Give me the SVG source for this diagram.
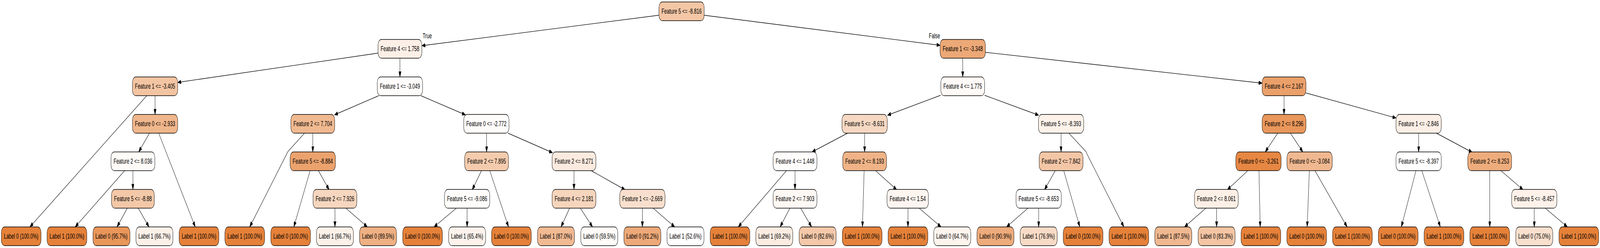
<svg xmlns="http://www.w3.org/2000/svg" width="6573" height="635" viewBox="0 0 6573 635" preserveAspectRatio="none">
<defs>
<marker id="arr" markerUnits="userSpaceOnUse" viewBox="0 0 14 10" refX="14" refY="5" markerWidth="14" markerHeight="10" orient="auto">
<path d="M0,0 L14,5 L0,10 Z" fill="#000" stroke="#000" stroke-width="1"/>
</marker>
</defs>
<style>
svg{width:100vw;height:100vh}
.node rect{stroke:#000;stroke-width:1.33}
.node text{font-family:"Liberation Sans",Arial,Helvetica,sans-serif;font-size:18.67px;text-anchor:middle;fill:#000}
.edges path{fill:none;stroke:#000;stroke-width:1.33;marker-end:url(#arr)}
.elabel{font-family:"Liberation Sans",Arial,Helvetica,sans-serif;font-size:18.67px;text-anchor:middle;fill:#000}
</style>
<rect x="0" y="0" width="6573" height="635" fill="#fff"/>
<g id="edges" class="edges">
<path d="M2707,39 L1733,117"/>
<path d="M2892,39 L3862,116"/>
<path d="M1553,136 L730,211"/>
<path d="M1643,149 L1643,197"/>
<path d="M3955,149 L3955,197"/>
<path d="M4048,134 L5185,213"/>
<path d="M603,245 L123,581"/>
<path d="M637,245 L637,293"/>
<path d="M1556,245 L1374,294"/>
<path d="M1729,245 L1912,294"/>
<path d="M3864,244 L3646,295"/>
<path d="M4045,244 L4267,295"/>
<path d="M5275,245 L5275,293"/>
<path d="M5365,238 L5735,302"/>
<path d="M614,341 L570,389"/>
<path d="M652,341 L802,581"/>
<path d="M1285,341 L1285,389"/>
<path d="M1251,341 L1183,388 Q1180,391 1178,394 L1026,581"/>
<path d="M1999,341 L1999,389"/>
<path d="M2087,341 L2270,391"/>
<path d="M3482,341 L3336,389"/>
<path d="M3552,341 L3552,389"/>
<path d="M4359,341 L4359,389"/>
<path d="M4391,341 L4461,388 Q4464,391 4466,395 L4617,581"/>
<path d="M5249,341 L5198,389"/>
<path d="M5301,341 L5352,389"/>
<path d="M5828,341 L5828,389"/>
<path d="M5901,341 L6048,390"/>
<path d="M512,437 L309,581"/>
<path d="M546,437 L546,485"/>
<path d="M1274,437 L1207,581"/>
<path d="M1308,437 L1352,486"/>
<path d="M1978,437 L1940,486"/>
<path d="M2012,437 L2089,581"/>
<path d="M2358,437 L2358,485"/>
<path d="M2429,437 L2568,486"/>
<path d="M3231,437 L3033,581"/>
<path d="M3266,437 L3266,485"/>
<path d="M3550,437 L3543,581"/>
<path d="M3597,437 L3684,486"/>
<path d="M4335,437 L4291,486"/>
<path d="M4370,437 L4436,581"/>
<path d="M5126,437 L5042,486"/>
<path d="M5172,437 L5177,581"/>
<path d="M5379,437 L5370,581"/>
<path d="M5402,437 L5534,581"/>
<path d="M5817,437 L5757,581"/>
<path d="M5841,437 L5917,581"/>
<path d="M6120,437 L6120,581"/>
<path d="M6166,437 L6257,486"/>
<path d="M523,533 L481,581"/>
<path d="M568,533 L612,581"/>
<path d="M1376,533 L1376,581"/>
<path d="M1421,533 L1509,581"/>
<path d="M1875,533 L1783,581"/>
<path d="M1919,533 L1919,581"/>
<path d="M2340,533 L2305,581"/>
<path d="M2384,533 L2434,581"/>
<path d="M2639,533 L2639,581"/>
<path d="M2683,533 L2772,581"/>
<path d="M3245,533 L3205,581"/>
<path d="M3289,533 L3334,581"/>
<path d="M3730,533 L3730,581"/>
<path d="M3776,533 L3866,581"/>
<path d="M4223,533 L4135,581"/>
<path d="M4267,533 L4267,581"/>
<path d="M4954,533 L4866,581"/>
<path d="M4998,533 L4998,581"/>
<path d="M6303,533 L6303,581"/>
<path d="M6348,533 L6439,581"/>
<text class="elabel" x="1755" y="98">True</text>
<text class="elabel" x="3839" y="98">False</text>
</g>
<g id="n0" class="node"><rect x="2707" y="5" width="186" height="48" rx="14" fill="#f3c6a5"/><text x="2800" y="35.5">Feature 5 &lt;= -8.816</text></g>
<g id="n1" class="node"><rect x="1553" y="101" width="180" height="48" rx="14" fill="#fcefe6"/><text x="1643" y="131.5">Feature 4 &lt;= 1.758</text></g>
<g id="n2" class="node"><rect x="3862" y="101" width="186" height="48" rx="14" fill="#eca876"/><text x="3955" y="131.5">Feature 1 &lt;= -3.348</text></g>
<g id="n3" class="node"><rect x="544" y="197" width="186" height="48" rx="14" fill="#f3c4a2"/><text x="637" y="227.5">Feature 1 &lt;= -3.405</text></g>
<g id="n4" class="node"><rect x="1550" y="197" width="186" height="48" rx="14" fill="#fffdfc"/><text x="1643" y="227.5">Feature 1 &lt;= -3.049</text></g>
<g id="n5" class="node"><rect x="3865" y="197" width="180" height="48" rx="14" fill="#fefaf7"/><text x="3955" y="227.5">Feature 4 &lt;= 1.775</text></g>
<g id="n6" class="node"><rect x="5185" y="197" width="180" height="48" rx="14" fill="#eba06a"/><text x="5275" y="227.5">Feature 4 &lt;= 2.167</text></g>
<g id="n7" class="node"><rect x="544" y="293" width="186" height="48" rx="14" fill="#f0b68c"/><text x="637" y="323.5">Feature 0 &lt;= -2.933</text></g>
<g id="n8" class="node"><rect x="1195" y="293" width="180" height="48" rx="14" fill="#f0b990"/><text x="1285" y="323.5">Feature 2 &lt;= 7.704</text></g>
<g id="n9" class="node"><rect x="1905" y="293" width="186" height="48" rx="14" fill="#fefcfa"/><text x="1998" y="323.5">Feature 0 &lt;= -2.772</text></g>
<g id="n10" class="node"><rect x="3459" y="293" width="186" height="48" rx="14" fill="#f6d8c2"/><text x="3552" y="323.5">Feature 5 &lt;= -8.631</text></g>
<g id="n11" class="node"><rect x="4266" y="293" width="186" height="48" rx="14" fill="#fcf2ea"/><text x="4359" y="323.5">Feature 5 &lt;= -8.393</text></g>
<g id="n12" class="node"><rect x="5185" y="293" width="180" height="48" rx="14" fill="#e9975b"/><text x="5275" y="323.5">Feature 2 &lt;= 8.296</text></g>
<g id="n13" class="node"><rect x="5735" y="293" width="186" height="48" rx="14" fill="#fcefe6"/><text x="5828" y="323.5">Feature 1 &lt;= -2.846</text></g>
<g id="n14" class="node"><rect x="456" y="389" width="180" height="48" rx="14" fill="#fefbf8"/><text x="546" y="419.5">Feature 2 &lt;= 8.036</text></g>
<g id="n15" class="node"><rect x="1192" y="389" width="186" height="48" rx="14" fill="#eba26d"/><text x="1285" y="419.5">Feature 5 &lt;= -8.884</text></g>
<g id="n16" class="node"><rect x="1909" y="389" width="180" height="48" rx="14" fill="#f4cbad"/><text x="1999" y="419.5">Feature 2 &lt;= 7.895</text></g>
<g id="n17" class="node"><rect x="2268" y="389" width="180" height="48" rx="14" fill="#fbeadf"/><text x="2358" y="419.5">Feature 2 &lt;= 8.271</text></g>
<g id="n18" class="node"><rect x="3176" y="389" width="180" height="48" rx="14" fill="#fffdfc"/><text x="3266" y="419.5">Feature 4 &lt;= 1.448</text></g>
<g id="n19" class="node"><rect x="3462" y="389" width="180" height="48" rx="14" fill="#efb387"/><text x="3552" y="419.5">Feature 2 &lt;= 8.193</text></g>
<g id="n20" class="node"><rect x="4269" y="389" width="180" height="48" rx="14" fill="#f3c6a6"/><text x="4359" y="419.5">Feature 2 &lt;= 7.842</text></g>
<g id="n21" class="node"><rect x="5077" y="389" width="186" height="48" rx="14" fill="#e68743"/><text x="5170" y="419.5">Feature 0 &lt;= -3.261</text></g>
<g id="n22" class="node"><rect x="5287" y="389" width="186" height="48" rx="14" fill="#f0b890"/><text x="5380" y="419.5">Feature 0 &lt;= -3.084</text></g>
<g id="n23" class="node"><rect x="5735" y="389" width="186" height="48" rx="14" fill="#ffffff"/><text x="5828" y="419.5">Feature 5 &lt;= -8.397</text></g>
<g id="n24" class="node"><rect x="6030" y="389" width="180" height="48" rx="14" fill="#eeac7c"/><text x="6120" y="419.5">Feature 2 &lt;= 8.253</text></g>
<g id="n25" class="node"><rect x="458" y="485" width="176" height="48" rx="14" fill="#f3c8a8"/><text x="546" y="515.5">Feature 5 &lt;= -8.88</text></g>
<g id="n26" class="node"><rect x="1286" y="485" width="180" height="48" rx="14" fill="#f6d6bf"/><text x="1376" y="515.5">Feature 2 &lt;= 7.926</text></g>
<g id="n27" class="node"><rect x="1826" y="485" width="186" height="48" rx="14" fill="#fffdfb"/><text x="1919" y="515.5">Feature 5 &lt;= -9.086</text></g>
<g id="n28" class="node"><rect x="2268" y="485" width="180" height="48" rx="14" fill="#f6d5bd"/><text x="2358" y="515.5">Feature 4 &lt;= 2.181</text></g>
<g id="n29" class="node"><rect x="2546" y="485" width="186" height="48" rx="14" fill="#f8dfcd"/><text x="2639" y="515.5">Feature 1 &lt;= -2.669</text></g>
<g id="n30" class="node"><rect x="3176" y="485" width="180" height="48" rx="14" fill="#fef8f4"/><text x="3266" y="515.5">Feature 2 &lt;= 7.903</text></g>
<g id="n31" class="node"><rect x="3644" y="485" width="170" height="48" rx="14" fill="#fdf5ef"/><text x="3729" y="515.5">Feature 4 &lt;= 1.54</text></g>
<g id="n32" class="node"><rect x="4174" y="485" width="186" height="48" rx="14" fill="#fffefe"/><text x="4267" y="515.5">Feature 5 &lt;= -8.653</text></g>
<g id="n33" class="node"><rect x="4907" y="485" width="180" height="48" rx="14" fill="#fcefe5"/><text x="4997" y="515.5">Feature 2 &lt;= 8.061</text></g>
<g id="n34" class="node"><rect x="6210" y="485" width="186" height="48" rx="14" fill="#fdf1ea"/><text x="6303" y="515.5">Feature 5 &lt;= -8.457</text></g>
<g id="L1" class="node"><rect x="5.5" y="581" width="163" height="48" rx="14" fill="#e58139"/><text x="87" y="611.5">Label 0 (100.0%)</text></g>
<g id="L2" class="node"><rect x="193.5" y="581" width="163" height="48" rx="14" fill="#e58139"/><text x="275" y="611.5">Label 1 (100.0%)</text></g>
<g id="L3" class="node"><rect x="382" y="581" width="152" height="48" rx="14" fill="#e9965a"/><text x="458" y="611.5">Label 0 (95.7%)</text></g>
<g id="L4" class="node"><rect x="558.5" y="581" width="152" height="48" rx="14" fill="#fcf1e9"/><text x="634.5" y="611.5">Label 1 (66.7%)</text></g>
<g id="L5" class="node"><rect x="736" y="581" width="163" height="48" rx="14" fill="#e58139"/><text x="817.5" y="611.5">Label 1 (100.0%)</text></g>
<g id="L6" class="node"><rect x="924" y="581" width="163" height="48" rx="14" fill="#e58139"/><text x="1005.5" y="611.5">Label 1 (100.0%)</text></g>
<g id="L7" class="node"><rect x="1112.5" y="581" width="163" height="48" rx="14" fill="#e58139"/><text x="1194" y="611.5">Label 0 (100.0%)</text></g>
<g id="L8" class="node"><rect x="1300" y="581" width="152" height="48" rx="14" fill="#fcf1e9"/><text x="1376" y="611.5">Label 1 (66.7%)</text></g>
<g id="L9" class="node"><rect x="1477" y="581" width="152" height="48" rx="14" fill="#efb083"/><text x="1553" y="611.5">Label 0 (89.5%)</text></g>
<g id="L10" class="node"><rect x="1654.5" y="581" width="163" height="48" rx="14" fill="#e58139"/><text x="1736" y="611.5">Label 0 (100.0%)</text></g>
<g id="L11" class="node"><rect x="1843" y="581" width="152" height="48" rx="14" fill="#fdf3ec"/><text x="1919" y="611.5">Label 1 (65.4%)</text></g>
<g id="L12" class="node"><rect x="2019.5" y="581" width="163" height="48" rx="14" fill="#e58139"/><text x="2101" y="611.5">Label 0 (100.0%)</text></g>
<g id="L13" class="node"><rect x="2208" y="581" width="152" height="48" rx="14" fill="#f1ba93"/><text x="2284" y="611.5">Label 1 (87.0%)</text></g>
<g id="L14" class="node"><rect x="2386" y="581" width="152" height="48" rx="14" fill="#fefbf8"/><text x="2462" y="611.5">Label 0 (59.5%)</text></g>
<g id="L15" class="node"><rect x="2563" y="581" width="152" height="48" rx="14" fill="#eda978"/><text x="2639" y="611.5">Label 0 (91.2%)</text></g>
<g id="L16" class="node"><rect x="2740" y="581" width="152" height="48" rx="14" fill="#fffefe"/><text x="2816" y="611.5">Label 1 (52.6%)</text></g>
<g id="L17" class="node"><rect x="2917.5" y="581" width="163" height="48" rx="14" fill="#e58139"/><text x="2999" y="611.5">Label 1 (100.0%)</text></g>
<g id="L18" class="node"><rect x="3105" y="581" width="152" height="48" rx="14" fill="#fbece2"/><text x="3181" y="611.5">Label 1 (69.2%)</text></g>
<g id="L19" class="node"><rect x="3283" y="581" width="152" height="48" rx="14" fill="#f4c8a9"/><text x="3359" y="611.5">Label 0 (82.6%)</text></g>
<g id="L20" class="node"><rect x="3460.5" y="581" width="163" height="48" rx="14" fill="#e58139"/><text x="3542" y="611.5">Label 1 (100.0%)</text></g>
<g id="L21" class="node"><rect x="3648.5" y="581" width="163" height="48" rx="14" fill="#e58139"/><text x="3730" y="611.5">Label 1 (100.0%)</text></g>
<g id="L22" class="node"><rect x="3836" y="581" width="152" height="48" rx="14" fill="#fdf4ee"/><text x="3912" y="611.5">Label 0 (64.7%)</text></g>
<g id="L23" class="node"><rect x="4013.5" y="581" width="152" height="48" rx="14" fill="#eeab7b"/><text x="4089.5" y="611.5">Label 0 (90.9%)</text></g>
<g id="L24" class="node"><rect x="4191" y="581" width="152" height="48" rx="14" fill="#f8dbc6"/><text x="4267" y="611.5">Label 1 (76.9%)</text></g>
<g id="L25" class="node"><rect x="4368" y="581" width="163" height="48" rx="14" fill="#e58139"/><text x="4449.5" y="611.5">Label 0 (100.0%)</text></g>
<g id="L26" class="node"><rect x="4556" y="581" width="163" height="48" rx="14" fill="#e58139"/><text x="4637.5" y="611.5">Label 1 (100.0%)</text></g>
<g id="L27" class="node"><rect x="4744" y="581" width="152" height="48" rx="14" fill="#f0b890"/><text x="4820" y="611.5">Label 1 (87.5%)</text></g>
<g id="L28" class="node"><rect x="4922" y="581" width="152" height="48" rx="14" fill="#f4c5a3"/><text x="4998" y="611.5">Label 0 (83.3%)</text></g>
<g id="L29" class="node"><rect x="5098.5" y="581" width="163" height="48" rx="14" fill="#e58139"/><text x="5180" y="611.5">Label 1 (100.0%)</text></g>
<g id="L30" class="node"><rect x="5286.5" y="581" width="163" height="48" rx="14" fill="#e58139"/><text x="5368" y="611.5">Label 0 (100.0%)</text></g>
<g id="L31" class="node"><rect x="5474.5" y="581" width="163" height="48" rx="14" fill="#e58139"/><text x="5556" y="611.5">Label 1 (100.0%)</text></g>
<g id="L32" class="node"><rect x="5662.5" y="581" width="163" height="48" rx="14" fill="#e58139"/><text x="5744" y="611.5">Label 0 (100.0%)</text></g>
<g id="L33" class="node"><rect x="5850.5" y="581" width="163" height="48" rx="14" fill="#e58139"/><text x="5932" y="611.5">Label 1 (100.0%)</text></g>
<g id="L34" class="node"><rect x="6038.5" y="581" width="163" height="48" rx="14" fill="#e58139"/><text x="6120" y="611.5">Label 1 (100.0%)</text></g>
<g id="L35" class="node"><rect x="6227" y="581" width="152" height="48" rx="14" fill="#f9e0ce"/><text x="6303" y="611.5">Label 0 (75.0%)</text></g>
<g id="L36" class="node"><rect x="6404.5" y="581" width="163" height="48" rx="14" fill="#e58139"/><text x="6486" y="611.5">Label 1 (100.0%)</text></g>
</svg>
